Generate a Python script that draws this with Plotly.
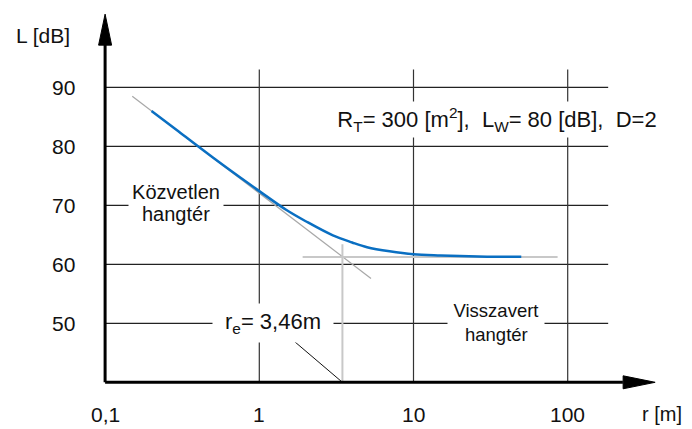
import math
import plotly.graph_objects as go

# ---- data ----
curve_r = [0.2, 0.3, 0.5, 0.7, 1.0, 1.5, 2.0, 3.0, 4.0, 5.0, 7.0, 10.0, 15.0, 20.0, 30.0, 50.0]
curve_L = [86.0, 82.5, 78.1, 75.3, 72.4, 69.2, 67.3, 64.9, 63.7, 62.9, 62.2, 61.7, 61.5, 61.4, 61.3, 61.27]
direct_r = [0.15, 5.3]
direct_L = [88.5, 57.6]
reverb_r = [1.91, 86.0]
reverb_L = [61.25, 61.25]
re_value = 3.46
re_top = 63.4

x_ticks = [0.1, 1, 10, 100]
x_ticktext = ["0,1", "1", "10", "100"]
y_ticks = [50, 60, 70, 80, 90]
y_ticktext = ["50", "60", "70", "80", "90"]
grid_x = [1, 10, 100]
grid_y = [50, 60, 70, 80, 90]

FONT = "Liberation Sans, Arial, sans-serif"
TXT = "#111"
lg = math.log10

fig = go.Figure()

# asymptotes
fig.add_trace(go.Scatter(x=direct_r, y=direct_L, mode="lines",
                         line=dict(color="#a8a8a8", width=1.2), hoverinfo="skip"))
fig.add_trace(go.Scatter(x=reverb_r, y=reverb_L, mode="lines",
                         line=dict(color="#c8c8c8", width=2), hoverinfo="skip"))
fig.add_trace(go.Scatter(x=[re_value, re_value], y=[40, re_top], mode="lines",
                         line=dict(color="#c8c8c8", width=2), hoverinfo="skip"))
# main curve
fig.add_trace(go.Scatter(x=curve_r, y=curve_L, mode="lines",
                         line=dict(color="#0a6fc2", width=2.5, shape="spline"),
                         hoverinfo="skip"))

shapes = []
for gy in grid_y:
    shapes.append(dict(type="line", xref="x", yref="y", x0=0.1, x1=183, y0=gy, y1=gy,
                       line=dict(color="#222", width=1.2), layer="below"))
for gx in grid_x:
    shapes.append(dict(type="line", xref="x", yref="y", x0=gx, x1=gx, y0=40, y1=93,
                       line=dict(color="#333", width=1.2), layer="below"))
# leader line for r_e
shapes.append(dict(type="line", xref="x", yref="y", x0=1.647, y0=47.17, x1=re_value, y1=40,
                   line=dict(color="#111", width=1)))
# axes
shapes.append(dict(type="line", xref="x", yref="y", x0=0.1, x1=0.1, y0=40, y1=97.5,
                   line=dict(color="black", width=3)))
shapes.append(dict(type="line", xref="x", yref="y", x0=0.1, x1=228, y0=40, y1=40,
                   line=dict(color="black", width=3)))
# arrowheads (pixel sized, anchored at the tips)
shapes.append(dict(type="path", xref="x", yref="y", xsizemode="pixel", ysizemode="pixel",
                   xanchor=0.1, yanchor=102.4, path="M0,0 L-6.5,-31 L6.5,-31 Z",
                   fillcolor="black", line=dict(color="black", width=1)))
shapes.append(dict(type="path", xref="x", yref="y", xsizemode="pixel", ysizemode="pixel",
                   xanchor=369, yanchor=40, path="M0,0 L-32,6.5 L-32,-6.5 Z",
                   fillcolor="black", line=dict(color="black", width=1)))

ann = []
for v, t in zip(x_ticks, x_ticktext):
    ann.append(dict(x=lg(v), y=40, xref="x", yref="y", text=t, showarrow=False,
                    yshift=-32, font=dict(size=21, family=FONT, color=TXT)))
for v, t in zip(y_ticks, y_ticktext):
    ann.append(dict(x=lg(0.1), y=v, xref="x", yref="y", text=t, showarrow=False,
                    xanchor="right", xshift=-28, font=dict(size=21, family=FONT, color=TXT)))
ann.append(dict(x=lg(0.1), y=102.4, xref="x", yref="y", text="L [dB]", showarrow=False,
                xshift=-62, yshift=-21, font=dict(size=21, family=FONT, color=TXT)))
ann.append(dict(x=lg(369), y=40, xref="x", yref="y", text="r [m]", showarrow=False,
                xshift=7, yshift=-32, font=dict(size=20, family=FONT, color=TXT)))
ann.append(dict(x=lg(34.8), y=84.55, xref="x", yref="y",
                text="R<sub>T</sub>= 300 [m<sup>2</sup>],\u00a0\u00a0L<sub>W</sub>= 80 [dB],\u00a0\u00a0D=2",
                showarrow=False, bgcolor="white", borderpad=1, width=320, height=33,
                font=dict(size=22, family=FONT, color=TXT)))
ann.append(dict(x=lg(0.29), y=70, xref="x", yref="y", text="Közvetlen", showarrow=False,
                yshift=13, bgcolor="white", borderpad=1, width=92, height=30,
                font=dict(size=20, family=FONT, color=TXT)))
ann.append(dict(x=lg(0.29), y=70, xref="x", yref="y", text="hangtér", showarrow=False,
                yshift=-9, font=dict(size=20, family=FONT, color=TXT)))
ann.append(dict(x=lg(34.4), y=50, xref="x", yref="y", text="Visszavert", showarrow=False,
                yshift=13, bgcolor="white", borderpad=1, width=94, height=30,
                font=dict(size=18.5, family=FONT, color=TXT)))
ann.append(dict(x=lg(34.4), y=50, xref="x", yref="y", text="hangtér", showarrow=False,
                yshift=-11, font=dict(size=18.5, family=FONT, color=TXT)))
ann.append(dict(x=lg(1.218), y=50, xref="x", yref="y", text="r<sub>e</sub>= 3,46m", showarrow=False,
                bgcolor="white", borderpad=1, width=118, height=36,
                font=dict(size=22, family=FONT, color=TXT)))

# page has an 8 px body margin: ranges are set for the visible screen area
fig.update_layout(
    width=692, height=429,
    margin=dict(l=0, r=0, t=0, b=0),
    paper_bgcolor="white", plot_bgcolor="white",
    showlegend=False,
    shapes=shapes, annotations=ann,
    xaxis=dict(type="log", range=[-1.6297, 2.858], visible=False, fixedrange=True),
    yaxis=dict(range=[30.73, 103.44], visible=False, fixedrange=True),
)

fig.write_html("out.html")
